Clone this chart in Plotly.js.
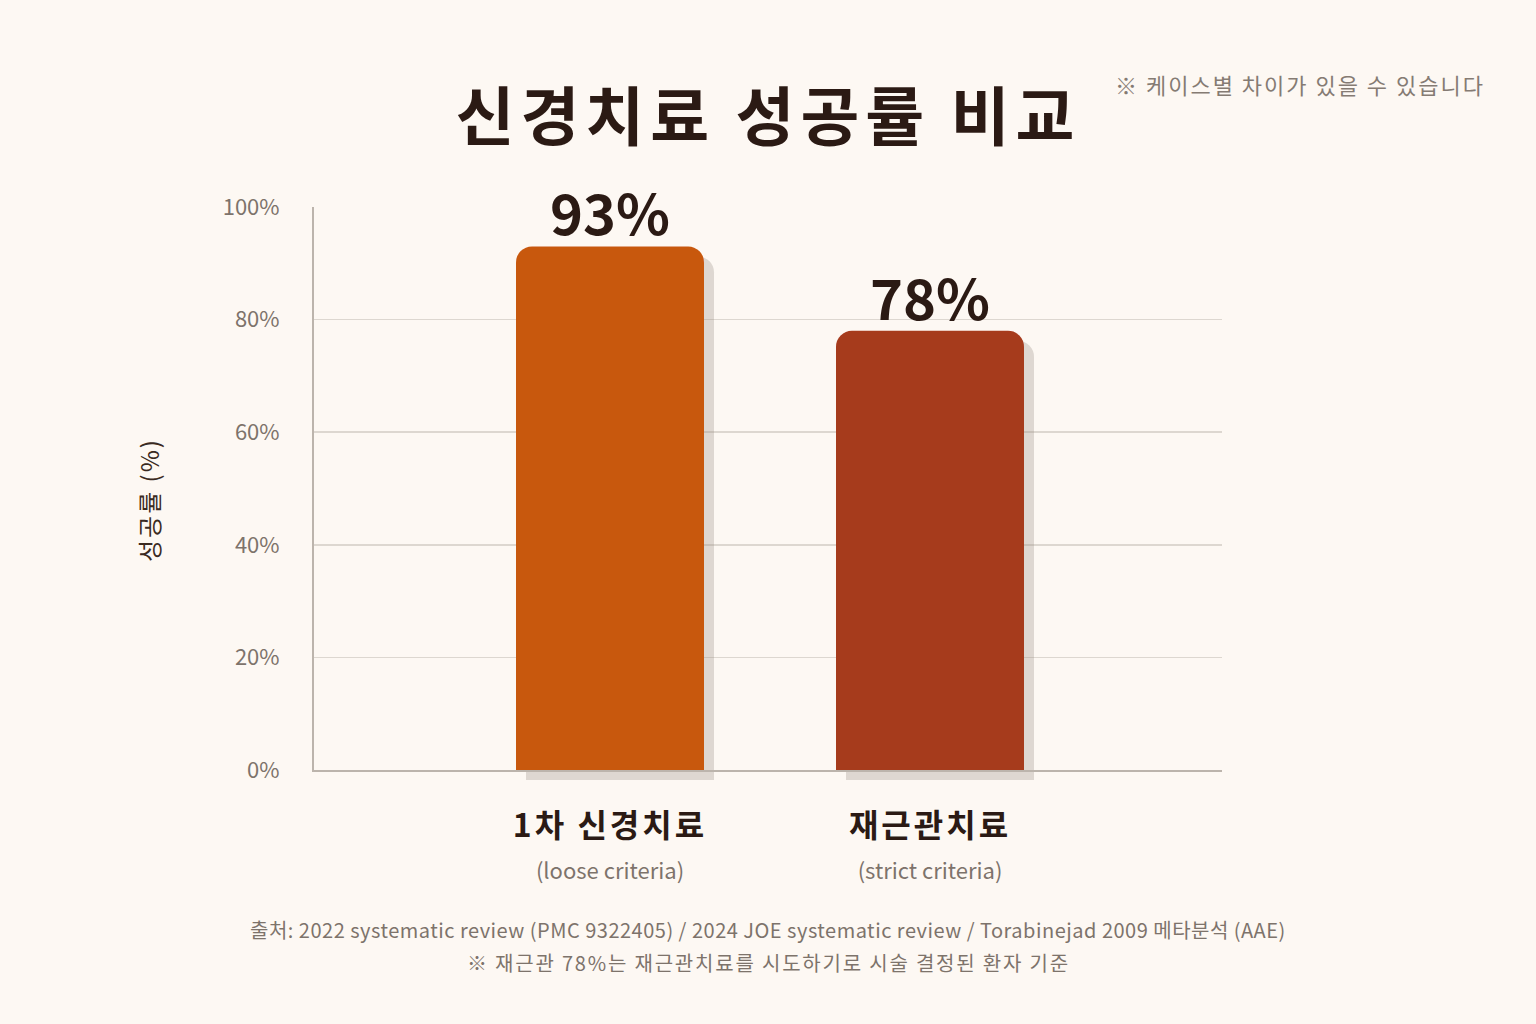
<!DOCTYPE html>
<html>
<head>
<meta charset="utf-8">
<script src="https://cdn.plot.ly/plotly-3.0.1.min.js"></script>
<style>
  html, body { margin: 0; padding: 0; background: #fdf8f3; }
  #chart { width: 1536px; height: 1024px; }
  /* soft offset shadow behind each bar */
  .js-plotly-plot .bars .point path { filter: url(#barShadow); }
</style>
</head>
<body>
<svg width="0" height="0" style="position:absolute">
  <defs>
    <filter id="barShadow" x="-20%" y="-20%" width="150%" height="150%">
      <feDropShadow dx="10" dy="10" stdDeviation="0" flood-color="rgb(150,140,130)" flood-opacity="0.3"/>
    </filter>
  </defs>
</svg>
<div id="chart"></div>
<script>
const categories = ['1차 신경치료', '재근관치료']
const subLabels = ['(loose criteria)', '(strict criteria)']
const successRates = [93, 78]
const barColors = ['#c8580f', '#a63a1e']
const yTicks = [0, 20, 40, 60, 80, 100]

const FONT = '"Noto Sans CJK KR", "Noto Sans", sans-serif'
const DARK = '#2b1a14'
const GREY = '#7d736b'

const tickText = categories.map((c, i) =>
  `<span style="letter-spacing:3px"><b>${c}</b></span><br><span style="font-size:22px;color:${GREY}">${subLabels[i]}</span>`)

const data = [{
  type: 'bar',
  x: categories,
  y: successRates,
  width: 0.5875,
  marker: { color: barColors, cornerradius: 16, line: { width: 0 } },
  cliponaxis: false,
  hoverinfo: 'skip',
}]

// value labels sitting just above each bar
const valueLabels = categories.map((c, i) => ({
  text: `<b>${successRates[i]}%</b>`,
  x: c,
  y: successRates[i],
  xref: 'x', yref: 'y',
  yanchor: 'bottom',
  yshift: -7,
  showarrow: false,
  font: { family: FONT, size: 56, color: DARK },
}))

const layout = {
  width: 1536,
  height: 1024,
  paper_bgcolor: '#fdf8f3',
  plot_bgcolor: '#fdf8f3',
  font: { family: FONT, color: DARK },
  showlegend: false,
  margin: { l: 314, r: 314, t: 207, b: 254 },
  title: {
    text: '<span style="letter-spacing:6px"><b>신경치료 성공률 비교</b></span>',
    font: { family: FONT, size: 64, color: DARK },
    x: 0.5,
    xanchor: 'center',
    y: 1 - 118 / 1024,
    yanchor: 'middle',
  },
  xaxis: {
    type: 'category',
    range: [-0.925, 1.9125],
    tickvals: categories,
    ticktext: tickText,
    tickfont: { family: FONT, size: 32, color: DARK },
    showline: true,
    linecolor: '#bcb4ac',
    linewidth: 2,
    showgrid: false,
    ticks: '',
    ticklabelstandoff: 27,
    fixedrange: true,
  },
  yaxis: {
    range: [0, 100],
    tickvals: yTicks,
    ticktext: yTicks.map(v => v + '%'),
    tickfont: { family: FONT, size: 22, color: GREY },
    showline: true,
    linecolor: '#bcb4ac',
    linewidth: 2,
    gridcolor: '#ddd7d0',
    gridwidth: 1.5,
    zeroline: false,
    ticks: '',
    ticklabelstandoff: 28,
    fixedrange: true,
  },
  annotations: [
    ...valueLabels,
    {
      text: '<span style="letter-spacing:2px">성공률 (%)</span>',
      xref: 'paper', yref: 'paper',
      x: (148 - 314) / 908, y: (770 - 500) / 563,
      xanchor: 'center', yanchor: 'middle',
      textangle: -90,
      showarrow: false,
      font: { family: FONT, size: 24, color: '#3a2a22' },
    },
    {
      text: '<span style="letter-spacing:2px">※ 케이스별 차이가 있을 수 있습니다</span>',
      xref: 'paper', yref: 'paper',
      x: (1487 - 314) / 908, y: (770 - 84) / 563,
      xanchor: 'right', yanchor: 'middle',
      showarrow: false,
      font: { family: FONT, size: 22, color: '#857b73' },
    },
    {
      text: '<span style="letter-spacing:0.5px">출처: 2022 systematic review (PMC 9322405) / 2024 JOE systematic review / Torabinejad 2009 메타분석 (AAE)</span>',
      xref: 'paper', yref: 'paper',
      x: (768 - 314) / 908, y: (770 - 929) / 563,
      xanchor: 'center', yanchor: 'middle',
      showarrow: false,
      font: { family: FONT, size: 20, color: GREY },
    },
    {
      text: '<span style="letter-spacing:1.8px">※ 재근관 78%는 재근관치료를 시도하기로 시술 결정된 환자 기준</span>',
      xref: 'paper', yref: 'paper',
      x: (768 - 314) / 908, y: (770 - 962) / 563,
      xanchor: 'center', yanchor: 'middle',
      showarrow: false,
      font: { family: FONT, size: 20, color: GREY },
    },
  ],
}

const config = { displayModeBar: false, staticPlot: true }

Plotly.newPlot('chart', data, layout, config).then(gd => {
  // let the bar shadow run past the bottom axis line
  gd.querySelectorAll('.cartesianlayer [clip-path], .cartesianlayer [style*="clip-path"]').forEach(el => {
    el.removeAttribute('clip-path')
    el.style.clipPath = 'none'
  })
})
</script>
</body>
</html>
